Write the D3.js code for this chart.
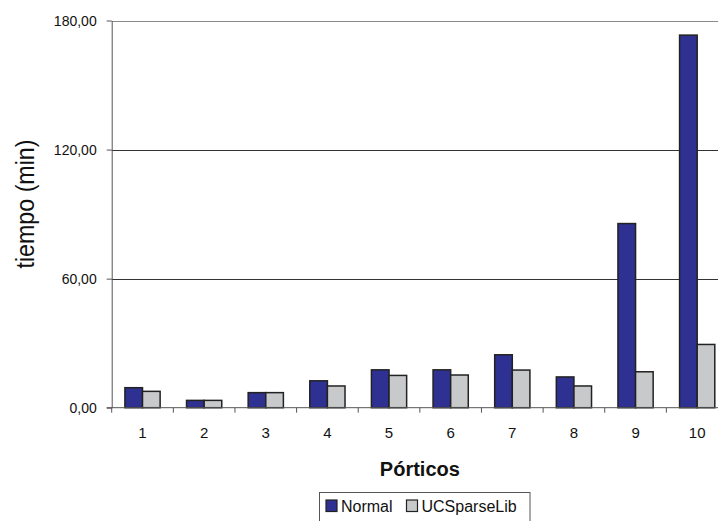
<!DOCTYPE html>
<html lang="es">
<head>
<meta charset="UTF-8">
<title>Pórticos</title>
<script src="https://cdn.jsdelivr.net/npm/d3@7"></script>
<style>
  body { margin: 0; background: #fff; }
  text { font-family: "Liberation Sans", Arial, sans-serif; fill: #111; }
</style>
</head>
<body>
<div id="chart"></div>
<script>
// datos
var categorias = ["1","2","3","4","5","6","7","8","9","10"];
var series = ["Normal", "UCSparseLib"];
var normal = [9.3, 3.4, 7.0, 12.5, 17.6, 17.6, 24.6, 14.3, 85.6, 173.2];
var ucsparse = [7.6, 3.4, 7.0, 10.1, 15.0, 15.2, 17.5, 10.1, 16.7, 29.4];
var yTicks = [0, 60, 120, 180];
var yTickLabels = ["0,00", "60,00", "120,00", "180,00"];
var colores = ["#2e3192", "#c8c9cb"];

var width = 718, height = 521;
var pLeft = 111.7, pRight = 728, pTop = 20.5, pBottom = 407.7;

var svg = d3.select("#chart").append("svg")
    .attr("width", width).attr("height", height);

var x = d3.scaleBand().domain(categorias).range([pLeft, pRight]);
var xs = d3.scaleBand().domain(series).range([0, x.bandwidth()]).paddingOuter(0.75);
var y = d3.scaleLinear().domain([0, 180]).range([pBottom, pTop]);

// lineas de la rejilla
svg.append("g").selectAll("line")
    .data(yTicks.slice(1))
    .join("line")
    .attr("x1", pLeft).attr("x2", width)
    .attr("y1", function(d){ return Math.round(y(d)) + 0.5; })
    .attr("y2", function(d){ return Math.round(y(d)) + 0.5; })
    .attr("stroke", function(d){ return d == 180 ? "#8a8a8a" : "#333"; })
    .attr("stroke-width", 1);

// barras
var filas = categorias.map(function(c, i){ return {cat: c, vals: [normal[i], ucsparse[i]]}; });
svg.append("g").selectAll("g")
    .data(filas)
    .join("g")
    .attr("transform", function(d){ return "translate(" + x(d.cat) + ",0)"; })
    .selectAll("rect")
    .data(function(d){ return d.vals.map(function(v, j){ return {s: series[j], v: v, j: j}; }); })
    .join("rect")
    .attr("x", function(d){ return xs(d.s); })
    .attr("width", xs.bandwidth())
    .attr("y", function(d){ return y(d.v); })
    .attr("height", function(d){ return pBottom - y(d.v); })
    .attr("fill", function(d){ return colores[d.j]; })
    .attr("stroke", "#222")
    .attr("stroke-width", 1.5);

// eje Y
var yAxis = svg.append("g")
    .attr("transform", "translate(" + pLeft + ",0)")
    .call(d3.axisLeft(y).tickValues(yTicks)
        .tickFormat(function(d, i){ return yTickLabels[i]; })
        .tickSizeInner(5).tickSizeOuter(0).tickPadding(10));
yAxis.select(".domain").attr("stroke", "#555");
yAxis.selectAll(".tick line").attr("stroke", "#555");
yAxis.selectAll(".tick text")
    .attr("font-size", 14).attr("font-family", "Liberation Sans, Arial, sans-serif")
    .attr("fill", "#111").attr("dy", "0.36em");

// eje X
var xAxis = svg.append("g")
    .attr("transform", "translate(0," + pBottom + ")")
    .call(d3.axisBottom(x).tickSize(0).tickPadding(20));
xAxis.select(".domain").remove();
xAxis.append("line")
    .attr("x1", pLeft - 5).attr("x2", width)
    .attr("y1", 0).attr("y2", 0)
    .attr("stroke", "#555");
xAxis.selectAll(".tick text")
    .attr("font-size", 15).attr("font-family", "Liberation Sans, Arial, sans-serif")
    .attr("fill", "#111");
xAxis.selectAll(".bound")
    .data(categorias)
    .join("line")
    .attr("class", "bound")
    .attr("x1", function(d){ return x(d); }).attr("x2", function(d){ return x(d); })
    .attr("y1", 0).attr("y2", 5)
    .attr("stroke", "#555");

// titulos
svg.append("text")
    .attr("x", (pLeft + pRight) / 2).attr("y", 475.5)
    .attr("text-anchor", "middle")
    .attr("font-size", 20).attr("font-weight", "bold")
    .text("Pórticos");

svg.append("text")
    .attr("transform", "translate(34,204) rotate(-90)")
    .attr("text-anchor", "middle")
    .attr("font-size", 25)
    .attr("textLength", 129)
    .attr("lengthAdjust", "spacingAndGlyphs")
    .text("tiempo (min)");

// leyenda
var ley = svg.append("g");
ley.append("rect")
    .attr("x", 319.5).attr("y", 492.5).attr("width", 210.5).attr("height", 40)
    .attr("fill", "#fff").attr("stroke", "#555");
var posSw = [326, 406.5];
var items = ley.selectAll("g.item")
    .data(series)
    .join("g")
    .attr("class", "item")
    .attr("transform", function(d, i){ return "translate(" + posSw[i] + ",500)"; });
items.append("rect")
    .attr("width", 11).attr("height", 11.5)
    .attr("fill", function(d, i){ return colores[i]; })
    .attr("stroke", "#222").attr("stroke-width", 1.2);
items.append("text")
    .attr("x", 15).attr("y", 11.7)
    .attr("font-size", 16)
    .text(function(d){ return d; });
</script>
</body>
</html>
